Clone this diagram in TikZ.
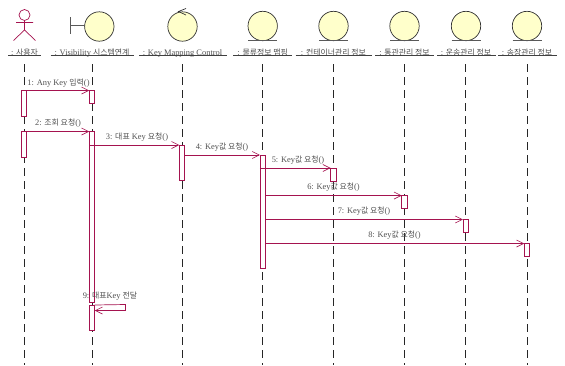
\documentclass[tikz,border=0pt]{standalone}
\usepackage{fontspec}
\setmainfont{Liberation Serif}
\newfontfamily\kof{Noto Sans CJK KR}[Scale=0.94]
\newcommand{\ko}[1]{{\kof #1}}
\usetikzlibrary{arrows.meta}
\definecolor{umlred}{HTML}{A5134F}
\definecolor{umlfill}{HTML}{FFFFCB}
\definecolor{umltext}{HTML}{505050}
\tikzset{
  every node/.style={inner sep=0pt,outer sep=0pt},
  lifeline/.style={draw=black!85,line width=0.8pt,dash pattern=on 8pt off 5pt},
  icon/.style={circle,draw=black!80,line width=0.7pt,fill=umlfill,minimum size=29.4pt},
  iconline/.style={draw=black!65,line width=0.9pt},
  objlabel/.style={font=\fontsize{8.4}{9}\selectfont,text=umltext,anchor=base},
  objline/.style={draw=black!75,line width=0.7pt},
  act/.style={rectangle,draw=umlred,line width=0.7pt,fill=white,minimum width=5.5pt,anchor=north},
  msg/.style={draw=umlred,line width=0.7pt,-{Straight Barb[length=7pt,width=7pt,line width=0.6pt]}},
  msglabel/.style={font=\fontsize{8.4}{9}\selectfont,text=umltext,anchor=base}
}
\begin{document}
\begin{tikzpicture}[x=1pt,y=-1pt]
\useasboundingbox (0,0) rectangle (565,365);
% end points of lifelines
\coordinate (e1) at (24,365);
\coordinate (e2) at (92,365);
\coordinate (e3) at (182.5,365);
\coordinate (e4) at (262.7,365);
\coordinate (e5) at (333.3,365);
\coordinate (e6) at (404.5,365);
\coordinate (e7) at (465.7,365);
\coordinate (e8) at (527,365);
% labels
\node[objlabel] (l1) at (24.5,55) {: \ko{사용자}};
\node[objlabel] (l2) at (92,55) {: Visibility \ko{시스템연계}};
\node[objlabel] (l3) at (182.5,55) {: Key Mapping Control};
\node[objlabel] (l4) at (262.7,55) {: \ko{물류정보 맵핑}};
\node[objlabel] (l5) at (333.5,55) {: \ko{컨테이너관리 정보}};
\node[objlabel] (l6) at (404.5,55) {: \ko{통관관리 정보}};
\node[objlabel] (l7) at (466,55) {: \ko{운송관리 정보}};
\node[objlabel] (l8) at (527,55) {: \ko{송장관리 정보}};
% underlines
\coordinate (u1a) at (8,55.7); \coordinate (u1b) at (41,55.7);
\coordinate (u2a) at (50.5,55.7); \coordinate (u2b) at (134,55.7);
\coordinate (u3a) at (139,55.7); \coordinate (u3b) at (226.5,55.7);
\coordinate (u4a) at (233,55.7); \coordinate (u4b) at (292,55.7);
\coordinate (u5a) at (295.5,55.7); \coordinate (u5b) at (371.5,55.7);
\coordinate (u6a) at (375,55.7); \coordinate (u6b) at (434,55.7);
\coordinate (u7a) at (437,55.7); \coordinate (u7b) at (495.5,55.7);
\coordinate (u8a) at (498,55.7); \coordinate (u8b) at (556.5,55.7);
\foreach \i in {1,...,8} \draw[objline] (u\i a) -- (u\i b);
% lifelines
\foreach \i in {1,...,8} \draw[lifeline] (e\i |- 0,64) -- (e\i);
% actor
\node[circle,draw=umlred,line width=0.7pt,minimum size=11pt] (head) at (24.5,15) {};
\coordinate (neck) at (24.5,30);
\coordinate (armL) at (16,22.5); \coordinate (armR) at (33,22.5);
\coordinate (legL) at (13.5,40.5); \coordinate (legR) at (35.5,40.5);
\draw[umlred,line width=0.7pt] (head.south) -- (neck) (armL) -- (armR) (legL) -- (neck) -- (legR);
% boundary
\node[icon] (b) at (99.3,26.5) {};
\coordinate (bt) at (70.5,17); \coordinate (bb) at (70.5,34); \coordinate (bm) at (70.5,25.5);
\draw[iconline] (bt) -- (bb) (bm) -- (b.west |- bm);
% control
\node[icon] (c) at (182.5,26.5) {};
\coordinate (c1) at (186,8.5); \coordinate (c2) at (186,15);
\draw[black!80,line width=0.7pt] (c1) -- (178.5,11.5) -- (c2);
% entities
\foreach \n/\x in {d/262.7,f/333.5,g/404.5,h/466,k/527}{
  \node[icon] (\n) at (\x,26) {};
  \draw[iconline] ([xshift=-14.5pt]\n.south) -- ([xshift=14.5pt]\n.south);
}
% activations
\node[act,minimum height=25.5pt] (a1) at (24,90.5) {};
\node[act,minimum height=12.5pt] (v1) at (92,90.5) {};
\node[act,minimum height=25.5pt] (a2) at (24,131.5) {};
\node[act,minimum height=170.5pt] (v2) at (92,131.5) {};
\node[act,minimum height=25pt] (v3) at (92,305) {};
\node[act,minimum height=35.5pt] (k1) at (182,145) {};
\node[act,minimum height=113pt] (m1) at (262.7,155) {};
\node[act,minimum height=13pt] (n5) at (333.3,168) {};
\node[act,minimum height=12.5pt] (n6) at (404.5,195.5) {};
\node[act,minimum height=12.5pt] (n7) at (465.7,219.5) {};
\node[act,minimum height=12.5pt] (n8) at (527,243.5) {};
% messages
\draw[msg] (a1.north east) -- (v1.north west);
\draw[msg] (a2.north east) -- (v2.north west);
\draw[msg] (v2.west |- k1.north) -- (k1.north west);
\draw[msg] (k1.east |- m1.north) -- (m1.north west);
\draw[msg] (m1.west |- n5.north) -- (n5.north west);
\draw[msg] (m1.east |- n6.north) -- (n6.north west);
\draw[msg] (m1.east |- n7.north) -- (n7.north west);
\draw[msg] (m1.east |- n8.north) -- (n8.north west);
\coordinate (s1) at (125.5,304.5); \coordinate (s2) at (125.5,310.5);
\draw[msg] (v3.north east) -- (s1) -- (s2) -- (v3.east |- s2);
% message labels
\node[msglabel] (t1) at (58.5,85) {1: Any Key \ko{입력}()};
\node[msglabel] (t2) at (58,125) {2: \ko{조회 요청}()};
\node[msglabel] (t3) at (137,139) {3: \ko{대표} Key \ko{요청}()};
\node[msglabel] (t4) at (222,149) {4: Key\ko{값 요청}()};
\node[msglabel] (t5) at (298,162) {5: Key\ko{값 요청}()};
\node[msglabel] (t6) at (333.5,189) {6: Key\ko{값 요청}()};
\node[msglabel] (t7) at (364,213) {7: Key\ko{값 요청}()};
\node[msglabel] (t8) at (394.5,237) {8: Key\ko{값 요청}()};
\node[msglabel] (t9) at (110,298) {9: \ko{대표}Key \ko{전달}};
\end{tikzpicture}
\end{document}
